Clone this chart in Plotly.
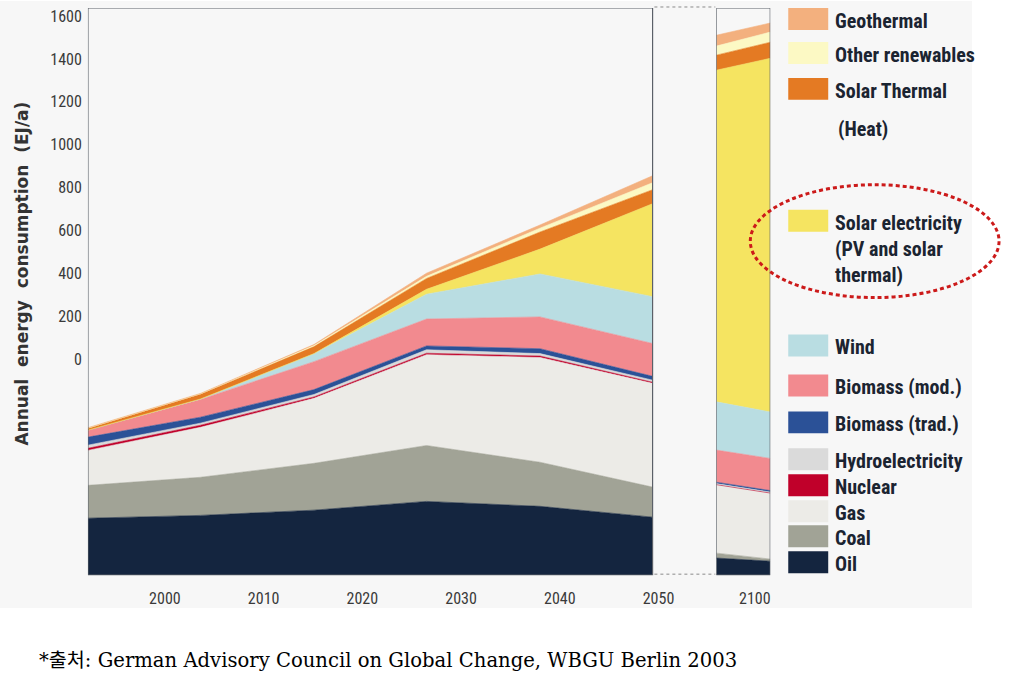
import plotly.graph_objects as go

W, H = 1015, 684

# ---------------- data (EJ/a) ----------------
YEARS = [1992.2, 2003.6, 2015.1, 2026.5, 2038.0, 2049.4]
YEARS_2100 = [2090, 2104]
X_TICKS = [2000, 2010, 2020, 2030, 2040, 2050]
X_TICKS_2100 = [2100]
Y_TICKS = [0, 200, 400, 600, 800, 1000, 1200, 1400, 1600]

SERIES = ["Oil", "Coal", "Gas", "Nuclear", "Hydroelectricity", "Biomass (trad.)",
          "Biomass (mod.)", "Wind", "Solar electricity", "Solar Thermal",
          "Other renewables", "Geothermal"]

OIL = [163, 171, 186, 211, 197, 166]
COAL = [94, 109, 134, 160, 126, 86]
GAS = [100, 143, 186, 260, 300, 297]
NUCLEAR = [6, 6, 4, 4, 4, 3]
HYDRO = [9, 6, 7, 10, 7, 6]
BIO_TRAD = [23, 17, 14, 11, 14, 11]
BIO_MOD = [20, 51, 80, 77, 91, 94]
WIND = [0, 1, 23, 71, 123, 134]
SOLAR_EL = [0, 0, 0, 14, 71, 266]
SOLAR_TH = [5, 14, 20, 31, 49, 40]
OTHER = [1, 1, 3, 6, 11, 20]
GEO = [1, 1, 3, 9, 9, 20]

OIL_2100 = [49, 40]
COAL_2100 = [14, 6]
GAS_2100 = [196, 189]
NUCLEAR_2100 = [0, 0]
HYDRO_2100 = [3, 3]
BIO_TRAD_2100 = [4, 4]
BIO_MOD_2100 = [92, 92]
WIND_2100 = [138, 133]
SOLAR_EL_2100 = [949, 1012]
SOLAR_TH_2100 = [43, 46]
OTHER_2100 = [26, 29]
GEO_2100 = [31, 26]

MAIN = [OIL, COAL, GAS, NUCLEAR, HYDRO, BIO_TRAD, BIO_MOD, WIND, SOLAR_EL, SOLAR_TH, OTHER, GEO]
P2100 = [OIL_2100, COAL_2100, GAS_2100, NUCLEAR_2100, HYDRO_2100, BIO_TRAD_2100, BIO_MOD_2100,
         WIND_2100, SOLAR_EL_2100, SOLAR_TH_2100, OTHER_2100, GEO_2100]

# ---------------- styles ----------------
COLORS = ["#14253f", "#a1a396", "#ecebe7", "#c0002a", "#dadada", "#2b5197",
          "#f28a8f", "#b9dde2", "#f5e461", "#e47a23", "#fcf9c4", "#f3b07e"]

Y_MAX = 1623
Y2_RANGE = [-1004.7, 1637.2]
X_RANGE = [1992.2, 2051.1]
X2_RANGE = [2090, 2104]

def px_x(p):
    return min(1.0, p * 1.004 / W)

def px_y(p):
    return 1 - p / H

NARROW = "Roboto Condensed, Liberation Sans Narrow, Arial Narrow, Liberation Sans, Arial"

fig = go.Figure()

for name, vals, col in zip(SERIES, MAIN, COLORS):
    fig.add_trace(go.Scatter(x=YEARS, y=vals, name=name, stackgroup="main", mode="lines",
                             line=dict(width=0.6, color=col), fillcolor=col,
                             xaxis="x", yaxis="y", showlegend=False))
for name, vals, col in zip(SERIES, P2100, COLORS):
    fig.add_trace(go.Scatter(x=YEARS_2100, y=vals, name=name, stackgroup="p2100", mode="lines",
                             line=dict(width=0.6, color=col), fillcolor=col,
                             xaxis="x2", yaxis="y", showlegend=False))
# invisible trace so the labelled y axis is drawn
fig.add_trace(go.Scatter(x=[YEARS[0]], y=[Y_TICKS[0]], xaxis="x", yaxis="y2", mode="markers",
                         marker=dict(opacity=0), hoverinfo="skip", showlegend=False))

shapes = []
# background of the original picture
shapes.append(dict(type="rect", xref="paper", yref="paper", x0=0, x1=px_x(973),
                   y0=px_y(608), y1=1, fillcolor="#f7f7f7", line=dict(width=0), layer="below"))
# panel frames
shapes.append(dict(type="rect", xref="x", yref="y", x0=YEARS[0], x1=YEARS[-1], y0=0, y1=Y_MAX,
                   line=dict(color="#5b6068", width=1.2), layer="above"))
shapes.append(dict(type="rect", xref="x2", yref="y", x0=YEARS_2100[0], x1=YEARS_2100[-1], y0=0, y1=Y_MAX,
                   line=dict(color="#5b6068", width=1.2), layer="above"))
# dotted connectors between panels
for yy in (6, 574):
    shapes.append(dict(type="line", xref="paper", yref="paper", x0=px_x(655), x1=px_x(716),
                       y0=px_y(yy), y1=px_y(yy), line=dict(color="#8a8a8a", width=1, dash="dot")))
# red dotted highlight ellipse
shapes.append(dict(type="circle", xref="paper", yref="paper", x0=px_x(751), x1=px_x(1000),
                   y0=px_y(297), y1=px_y(184), line=dict(color="#cc1a1a", width=3, dash="4px,3px")))

# custom legend
LEGEND_ORDER = ["Geothermal", "Other renewables", "Solar Thermal", "Solar electricity", "Wind",
                "Biomass (mod.)", "Biomass (trad.)", "Hydroelectricity", "Nuclear", "Gas", "Coal", "Oil"]
LEGEND_TEXT = {"Solar electricity": "Solar electricity<br>(PV and solar<br>thermal)"}
LEGEND_Y = [18, 52, 88, 220, 345, 385, 422, 459, 485, 511, 536, 562]
legend_font = dict(family=NARROW, size=20, color="#1b2431", weight="bold")
annotations = []
for name, yc in zip(LEGEND_ORDER, LEGEND_Y):
    col = COLORS[SERIES.index(name)]
    shapes.append(dict(type="rect", xref="paper", yref="paper", x0=px_x(789), x1=px_x(829),
                       y0=px_y(yc + 11), y1=px_y(yc - 11), fillcolor=col, line=dict(width=0)))
    txt = LEGEND_TEXT.get(name, name)
    if "<br>" in txt:
        annotations.append(dict(x=px_x(834), y=px_y(yc - 12), xref="paper", yref="paper", text=txt,
                                showarrow=False, xanchor="left", yanchor="top", align="left",
                                font=legend_font))
    else:
        annotations.append(dict(x=px_x(834), y=px_y(yc + 2), xref="paper", yref="paper", text=txt,
                                showarrow=False, xanchor="left", yanchor="middle", font=legend_font))
annotations.append(dict(x=px_x(837), y=px_y(128), xref="paper", yref="paper", text="(Heat)",
                        showarrow=False, xanchor="left", yanchor="middle", font=legend_font))

# axis title
annotations.append(dict(x=px_x(22), y=px_y(273), xref="paper", yref="paper",
                        text="Annual\u00a0 energy\u00a0 consumption\u00a0 (EJ/a)", textangle=-90,
                        showarrow=False, xanchor="center", yanchor="middle",
                        font=dict(family="DejaVu Sans, Liberation Sans", size=17, color="#333333",
                                  weight="bold")))
# source caption
annotations.append(dict(x=px_x(37), y=px_y(660), xref="paper", yref="paper",
                        text="*출처: German Advisory Council on Global Change, WBGU Berlin 2003",
                        showarrow=False, xanchor="left", yanchor="middle",
                        font=dict(family="DejaVu Serif, Noto Sans CJK KR", size=19.6, color="#000000")))

tickfont = dict(family=NARROW, size=16, color="#3a3a3a")

fig.update_layout(
    width=W, height=H, margin=dict(l=0, r=0, t=0, b=0, pad=0),
    paper_bgcolor="#ffffff", plot_bgcolor="#f7f7f7",
    showlegend=False,
    xaxis=dict(domain=[px_x(88), px_x(670)], range=X_RANGE, tickvals=X_TICKS,
               showgrid=False, zeroline=False, showline=False, ticks="",
               tickfont=tickfont, ticklabelstandoff=12, anchor="y"),
    xaxis2=dict(domain=[px_x(717), px_x(771)], range=X2_RANGE, tickvals=X_TICKS_2100,
                showgrid=False, zeroline=False, showline=False, ticks="",
                tickfont=tickfont, ticklabelstandoff=12, anchor="y"),
    yaxis=dict(domain=[px_y(575), px_y(7)], range=[0, Y_MAX], showticklabels=False,
               showgrid=False, zeroline=False, showline=False, ticks=""),
    yaxis2=dict(domain=[px_y(575), px_y(7)], range=Y2_RANGE, tickvals=Y_TICKS, overlaying="y",
                side="left", anchor="x", showgrid=False, zeroline=False, showline=False, ticks="",
                tickfont=tickfont, ticklabelstandoff=5),
    shapes=shapes, annotations=annotations,
)

fig.write_html("out.html",
               post_script="document.body.style.margin='0';document.body.style.overflow='hidden';")
